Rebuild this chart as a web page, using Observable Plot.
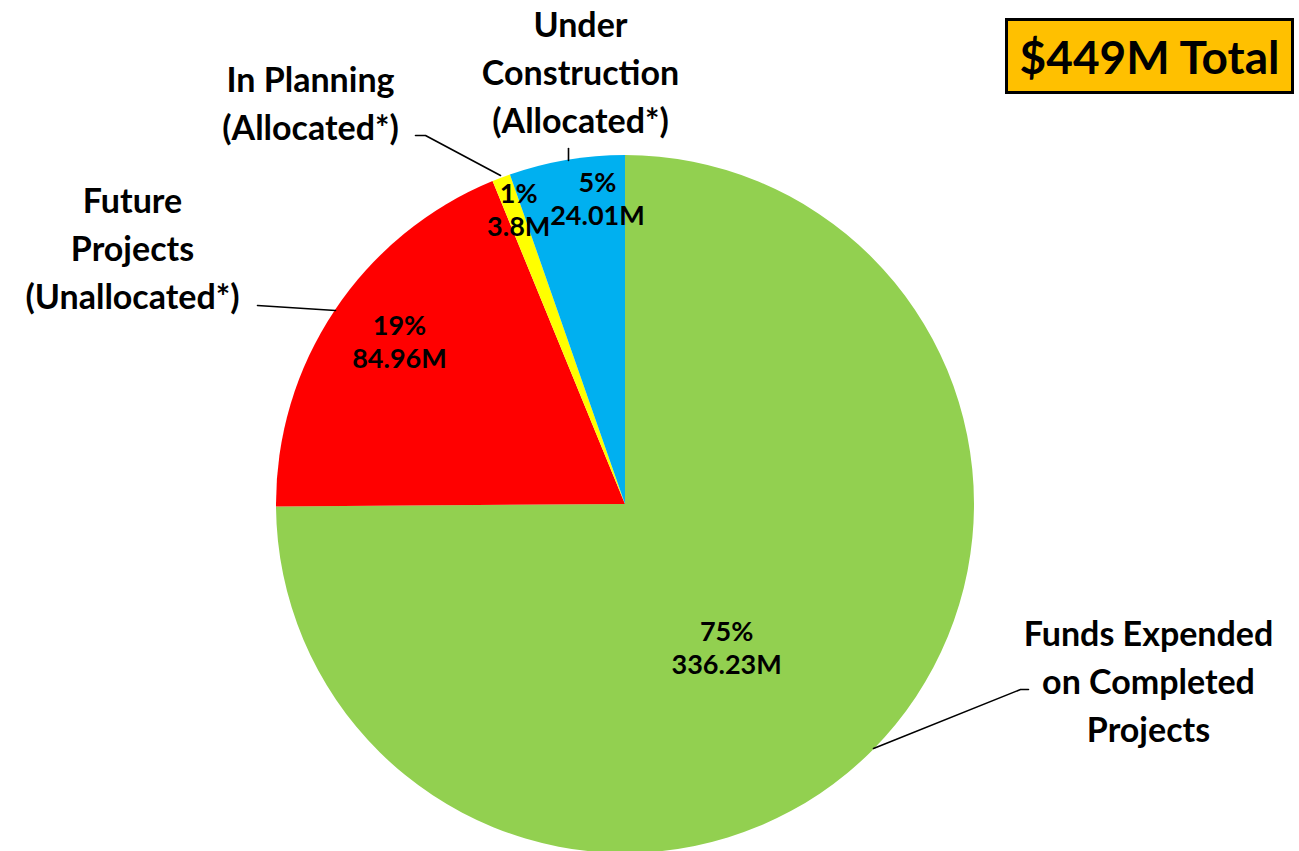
<!DOCTYPE html>
<html><head><meta charset="utf-8">
<script src="https://cdn.jsdelivr.net/npm/d3@7"></script>
<script src="https://cdn.jsdelivr.net/npm/@observablehq/plot@0.6"></script>
<style>
body{margin:0;background:#fff;}
#wrap{position:relative;width:1299px;height:851px;overflow:hidden;}
#total{position:absolute;left:1005px;top:18px;width:289px;height:76px;border:3px solid #000;background:#FFC000;font:bold 46px Lato,sans-serif;color:#000;display:flex;align-items:center;justify-content:center;box-sizing:border-box;}
</style></head><body><div id="wrap"><div id="total"></div></div>
<script>
// ---- data ----
const categories = ["Funds Expended on Completed Projects", "Future Projects (Unallocated*)", "In Planning (Allocated*)", "Under Construction (Allocated*)"];
const valuesM = [336.23, 84.96, 3.8, 24.01];
const percentLabels = ["75%", "19%", "1%", "5%"];
const valueLabels = ["336.23M", "84.96M", "3.8M", "24.01M"];
const outerLabels = ["Funds Expended\non Completed\nProjects", "Future\nProjects\n(Unallocated*)", "In Planning\n(Allocated*)", "Under\nConstruction\n(Allocated*)"];
const colors = ["#92D050", "#FF0000", "#FFFF00", "#00B0F0"];
const totalLabel = "$" + Math.round(d3.sum(valuesM)) + "M Total";

// ---- layout ----
const W = 1299, H = 851;
const center = {x: 625, y: 504};
const radius = 349;
const innerLabelPos = [[0.5, 9.8], [0.8, 2.3], [0.9, 0.9], [0.883, 4.4]]; // [radius fraction, angle tweak deg]
const outerLabelPos = [[1148, 678], [132, 245], [310, 100], [580, 69]];
const leaders = [
  [[873, 748], [1020, 689], [1028, 689]],
  [[335, 310], [257, 305]],
  [[500, 175], [425, 135], [415, 135]],
  [[568, 160], [568, 148]]
];
const FONT = "Lato, 'Open Sans', sans-serif";

document.getElementById("total").textContent = totalLabel;

const rows = categories.map((c, i) => ({category: c, value: valuesM[i], color: colors[i]}));
const arcs = d3.pie().sort(null).value(d => d.value)(rows);

const innerData = arcs.map((a, i) => {
  const mid = (a.startAngle + a.endAngle) / 2 + innerLabelPos[i][1] * Math.PI / 180;
  const r = radius * innerLabelPos[i][0];
  return {x: center.x + r * Math.sin(mid), y: center.y - r * Math.cos(mid), text: percentLabels[i] + "\n" + valueLabels[i]};
});
const outerData = outerLabels.map((t, i) => ({x: outerLabelPos[i][0], y: outerLabelPos[i][1], text: t}));
const leaderData = leaders.flatMap((pts, i) => pts.map(p => ({x: p[0], y: p[1], k: i})));

function pieMark(index, scales) {
  const sx = scales && scales.x ? scales.x : (v => v);
  const sy = scales && scales.y ? scales.y : (v => v);
  const g = d3.create("svg:g").attr("transform", `translate(${sx(center.x)},${sy(center.y)})`);
  const arcGen = d3.arc().innerRadius(0).outerRadius(radius);
  g.selectAll("path").data(arcs).join("path")
    .attr("d", arcGen)
    .attr("fill", d => d.data.color)
    .attr("stroke", "none");
  return g.node();
}

const chart = Plot.plot({
  width: W, height: H,
  margin: 0,
  x: {domain: [0, W], range: [0, W], axis: null},
  y: {domain: [0, H], range: [0, H], axis: null},
  style: {background: "transparent", fontFamily: FONT},
  marks: [
    pieMark,
    Plot.line(leaderData, {x: "x", y: "y", z: "k", stroke: "#000", strokeWidth: 1.6}),
    Plot.text(innerData, {x: "x", y: "y", text: "text", fontSize: 27, fontWeight: "bold", lineHeight: 1.22, fill: "#000", fontFamily: FONT}),
    Plot.text(outerData, {x: "x", y: "y", text: "text", fontSize: 34, fontWeight: "bold", lineHeight: 1.41, fill: "#000", fontFamily: FONT})
  ]
});
chart.style.position = "absolute";
chart.style.left = "0px";
chart.style.top = "0px";
document.getElementById("wrap").prepend(chart);
</script>
</body></html>
